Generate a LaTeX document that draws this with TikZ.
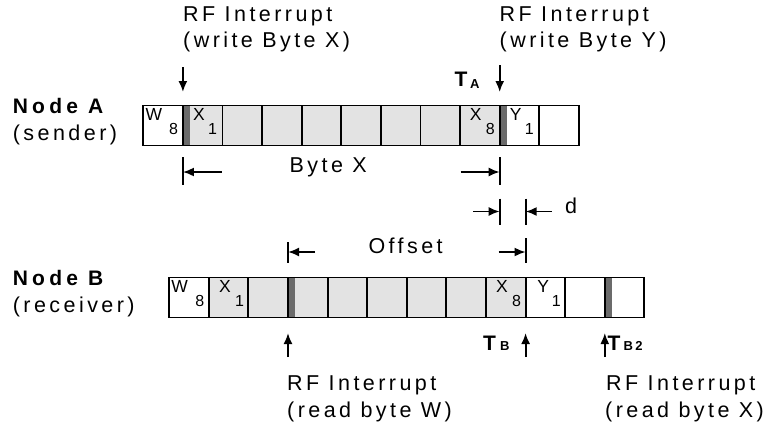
\documentclass[tikz,border=0pt]{standalone}
\usepackage{fontspec}
\setmainfont{Liberation Sans}
\newfontfamily\trackfont[LetterSpace=16]{Liberation Sans}
\newfontfamily\trackbold[LetterSpace=20]{Liberation Sans Bold}
\usetikzlibrary{arrows.meta}
\definecolor{cellgray}{HTML}{E3E3E3}
\definecolor{bardark}{HTML}{6B6B6B}
\tikzset{
  cellbox/.style={draw=black, line width=1.9bp, inner sep=0pt, outer sep=0pt,
    minimum width=39.6bp, minimum height=40bp, anchor=north west},
  lbl/.style={inner sep=0pt, anchor=base west, font=\trackfont\fontsize{21.5bp}{25bp}\selectfont},
  head/.style={inner sep=0pt, anchor=base west, font=\trackbold\fontsize{21bp}{25bp}\selectfont},
  tsub/.style={inner sep=0pt, anchor=base west, font=\trackbold\fontsize{13bp}{15bp}\selectfont},
  celltxt/.style={inner sep=0pt, anchor=base west, font=\fontsize{17.5bp}{19bp}\selectfont},
  cellsub/.style={inner sep=0pt, anchor=base west, font=\fontsize{16bp}{18bp}\selectfont},
  tick/.style={line width=1.9bp},
  dimarrow/.style={line width=1.9bp, -{Latex[length=11bp,width=9bp]}},
  vmark/.style={line width=1.9bp, -{Latex[length=11bp,width=9bp]}},
}
\begin{document}
\begin{tikzpicture}[x=1bp,y=-1bp]
\useasboundingbox (0,0) rectangle (773,432);

% ---- sender buffer (11 cells, X1..X8 shaded)
\foreach \i in {1,...,11}{
  \pgfmathtruncatemacro\g{and(\i>1,\i<10)}
  \ifnum\g=1 \def\fc{cellgray}\else\def\fc{white}\fi
  \node[cellbox, fill=\fc] (a\i) at ({143.3+(\i-1)*39.6},105.5) {};
}
% ---- receiver buffer (12 cells, X1..X8 shaded)
\foreach \i in {1,...,12}{
  \pgfmathtruncatemacro\g{and(\i>1,\i<10)}
  \ifnum\g=1 \def\fc{cellgray}\else\def\fc{white}\fi
  \node[cellbox, fill=\fc] (b\i) at ({169.2+(\i-1)*39.6},277.5) {};
}
% interrupt markers inside the buffers
\foreach \c in {a2,a10,b4,b12}{
  \fill[bardark] ([shift={(0.95bp,-0.95bp)}]\c.north west) rectangle ([shift={(7.2bp,0.95bp)}]\c.south west);
}

% ---- cell contents
\node[celltxt] (aw) at ([shift={(2bp,-15bp)}]a1.north west) {W};
\node[cellsub] (aw8) at ([shift={(25.5bp,-29bp)}]a1.north west) {8};
\node[celltxt] (ax) at ([shift={(10bp,-15bp)}]a2.north west) {X};
\node[cellsub] (ax1) at ([shift={(25bp,-29bp)}]a2.north west) {1};
\node[celltxt] (ax8x) at ([shift={(9.5bp,-15bp)}]a9.north west) {X};
\node[cellsub] (ax8) at ([shift={(25.5bp,-29bp)}]a9.north west) {8};
\node[celltxt] (ay) at ([shift={(10bp,-15bp)}]a10.north west) {Y};
\node[cellsub] (ay1) at ([shift={(25bp,-29bp)}]a10.north west) {1};

\node[celltxt] (bw) at ([shift={(2bp,-15bp)}]b1.north west) {W};
\node[cellsub] (bw8) at ([shift={(26bp,-29bp)}]b1.north west) {8};
\node[celltxt] (bx) at ([shift={(10bp,-15bp)}]b2.north west) {X};
\node[cellsub] (bx1) at ([shift={(26bp,-29bp)}]b2.north west) {1};
\node[celltxt] (bx8x) at ([shift={(10bp,-15bp)}]b9.north west) {X};
\node[cellsub] (bx8) at ([shift={(26bp,-29bp)}]b9.north west) {8};
\node[celltxt] (by) at ([shift={(11.5bp,-15bp)}]b10.north west) {Y};
\node[cellsub] (by1) at ([shift={(26bp,-29bp)}]b10.north west) {1};

% ---- row titles
\node[head] (na) at (12.7,113.5) {Node A};
\node[lbl] (nas) at (12.7,140.5) {(sender)};
\node[head] (nb) at (12.7,285.5) {Node B};
\node[lbl] (nbr) at (12.7,312) {(receiver)};

% ---- write interrupts at the sender
\node[lbl] (wi1) at (183,21) {RF Interrupt};
\node[lbl] (wi1b) at (183,47.5) {(write Byte X)};
\node[lbl] (wi2) at (499.5,21) {RF Interrupt};
\node[lbl] (wi2b) at (499.5,47.5) {(write Byte Y)};
\coordinate (w1s) at (a2.north west |- 0,67);
\coordinate (w1e) at (a2.north west |- 0,92);
\coordinate (w2s) at (a10.north west |- 0,65);
\coordinate (w2e) at (a10.north west |- 0,92);
\draw[vmark] (w1s) -- (w1e);
\draw[vmark] (w2s) -- (w2e);
\node[head] (ta) at (454.5,86.5) {T};
\node[tsub] (tas) at (470,88) {A};

% ---- Byte X span
\coordinate (bxl) at (a2.south west |- 0,172);
\coordinate (bxr) at (a10.south west |- 0,172);
\draw[tick] ([yshift=15bp]bxl) -- ([yshift=-13bp]bxl);
\draw[tick] ([yshift=15bp]bxr) -- ([yshift=-13bp]bxr);
\coordinate (bxla) at ([xshift=39bp]bxl);
\coordinate (bxra) at ([xshift=-39bp]bxr);
\draw[dimarrow] (bxla) -- (bxl);
\draw[dimarrow] (bxra) -- (bxr);
\node[lbl] (bxt) at (289.5,172) {Byte X};

% ---- delay d
\coordinate (dl) at (a10.south west |- 0,211.5);
\coordinate (dr) at (b10.north west |- 0,211.5);
\draw[tick] ([yshift=13bp]dl) -- ([yshift=-13bp]dl);
\draw[tick] ([yshift=13bp]dr) -- ([yshift=-13bp]dr);
\coordinate (dla) at ([xshift=-26.5bp]dl);
\coordinate (dra) at ([xshift=26bp]dr);
\draw[dimarrow] (dla) -- (dl);
\draw[dimarrow] (dra) -- (dr);
\node[lbl] (dt) at (565,213.5) {d};

% ---- Offset span
\coordinate (ol) at (b4.north west |- 0,252);
\coordinate (or) at (b10.north west |- 0,252);
\draw[tick] ([yshift=10bp]ol) -- ([yshift=-11bp]ol);
\draw[tick] ([yshift=14bp]or) -- ([yshift=-11bp]or);
\coordinate (ola) at ([xshift=27bp]ol);
\coordinate (ora) at ([xshift=-27bp]or);
\draw[dimarrow] (ola) -- (ol);
\draw[dimarrow] (ora) -- (or);
\node[lbl] (ot) at (368.3,253.5) {Offset};

% ---- read interrupts at the receiver
\coordinate (r1s) at (b4.south west |- 0,357);
\coordinate (r1e) at (b4.south west |- 0,333);
\coordinate (r2s) at (b10.south west |- 0,357);
\coordinate (r2e) at (b10.south west |- 0,333);
\coordinate (r3s) at (b12.south west |- 0,357);
\coordinate (r3e) at (b12.south west |- 0,333);
\draw[vmark] (r1s) -- (r1e);
\draw[vmark] (r2s) -- (r2e);
\draw[vmark] (r3s) -- (r3e);
\node[head] (tb) at (483,350.5) {T};
\node[tsub] (tbs) at (500,350.5) {B};
\node[head] (tb2) at (607.5,350.5) {T};
\node[tsub] (tb2s) at (623.3,350.5) {B2};

\node[lbl] (ri1) at (287,390) {RF Interrupt};
\node[lbl] (ri1b) at (287,417) {(read byte W)};
\node[lbl] (ri2) at (606,390) {RF Interrupt};
\node[lbl] (ri2b) at (605,417) {(read byte X)};
\end{tikzpicture}
\end{document}
